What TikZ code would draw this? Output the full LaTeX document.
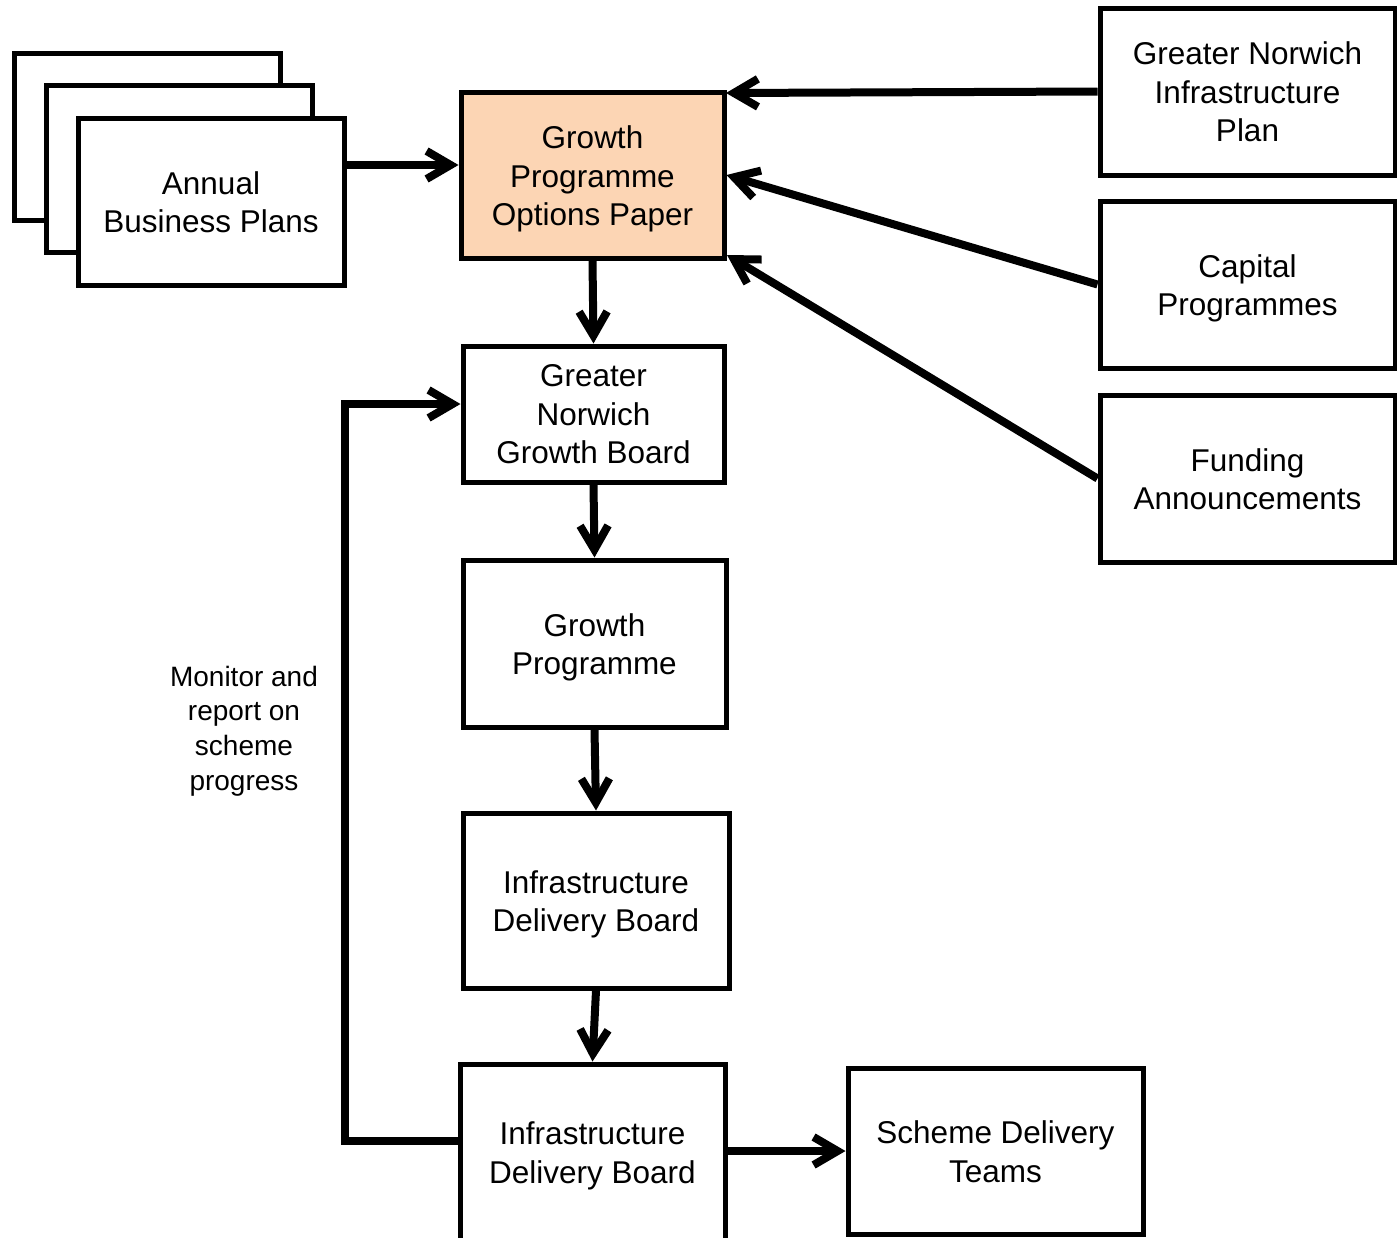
\documentclass[tikz,border=0pt]{standalone}
\usepackage{fontspec}
\setmainfont{Liberation Sans}
\usetikzlibrary{arrows.meta}
\definecolor{peach}{RGB}{252,213,180}
\tikzset{
  box/.style={draw=black, line width=5pt, fill=white, inner sep=0pt},
  txtlab/.style={align=center, inner sep=0pt, yshift=-4pt,
    font=\fontsize{31.5}{38.5}\selectfont},
  txt/.style={label={[txtlab]center:#1}},
  txthi/.style={label={[txtlab, yshift=3.5pt]center:#1}},
  conn/.style={line width=8pt, -{Straight Barb[length=24pt, width=28pt]}},
}
\begin{document}
\begin{tikzpicture}[x=1pt,y=-1pt]
\clip (0,0) rectangle (1397,1237);
\fill[white] (0,0) rectangle (1397,1237);
% stacked business plans
\node[box, minimum width=266pt, minimum height=167pt] (bp3) at (147,137) {};
\node[box, minimum width=266pt, minimum height=167pt] (bp2) at (179,169) {};
\node[box, minimum width=266pt, minimum height=167pt, txthi={Annual\\Business Plans}] (bp) at (211,201.5) {};
% main column
\node[box, fill=peach, minimum width=263pt, minimum height=166pt, txt={Growth\\Programme\\Options Paper}] (opt) at (592.5,175) {};
\node[box, minimum width=261pt, minimum height=136pt, txthi={Greater\\Norwich\\Growth Board}] (gngb) at (593.5,414) {};
\node[box, minimum width=263pt, minimum height=167pt, txt={Growth\\Programme}] (gp) at (594.5,643.5) {};
\node[box, minimum width=266pt, minimum height=175pt, txt={Infrastructure\\Delivery Board}] (idb1) at (596,900.5) {};
\node[box, minimum width=265pt, minimum height=176pt, txt={Infrastructure\\Delivery Board}] (idb2) at (592.5,1152) {};
\node[box, minimum width=295pt, minimum height=166pt, txthi={Scheme Delivery\\Teams}] (sdt) at (995.5,1151) {};
% right column
\node[box, minimum width=295pt, minimum height=167pt, txthi={Greater Norwich\\Infrastructure\\Plan}] (gnip) at (1247.5,91.5) {};
\node[box, minimum width=295pt, minimum height=167pt, txt={Capital\\Programmes}] (cap) at (1247.5,284.5) {};
\node[box, minimum width=295pt, minimum height=167pt, txthi={Funding\\Announcements}] (fund) at (1247.5,478.5) {};
% label
\node[align=center, inner sep=0pt, font=\fontsize{28}{34.8}\selectfont] (mon) at (244,731) {Monitor and\\report on\\scheme\\progress};
% connectors
\coordinate (bpout) at (343,165);
\coordinate (gnipin) at (726,93);
\coordinate (fundin) at (727,255);
\draw[conn] (bp.east |- bpout) -- (opt.west |- bpout);
\draw[conn] (gnip.west) -- (gnipin);
\draw[conn] (cap.west) -- (opt.east);
\draw[conn] (fund.west) -- (fundin);
\draw[conn] (opt.south) -- (gngb.north);
\draw[conn] (gngb.south) -- (gp.north);
\draw[conn] (gp.south) -- (idb1.north);
\draw[conn] (idb1.south) -- (idb2.north);
\draw[conn] (idb2.east |- sdt.west) -- (sdt.west);
\coordinate (fbA) at (345,1141);
\coordinate (fbB) at (345,404);
\draw[conn, line join=miter] (idb2.west |- fbA) -- (fbA) -- (fbB) -- (gngb.west |- fbB);
\end{tikzpicture}
\end{document}
